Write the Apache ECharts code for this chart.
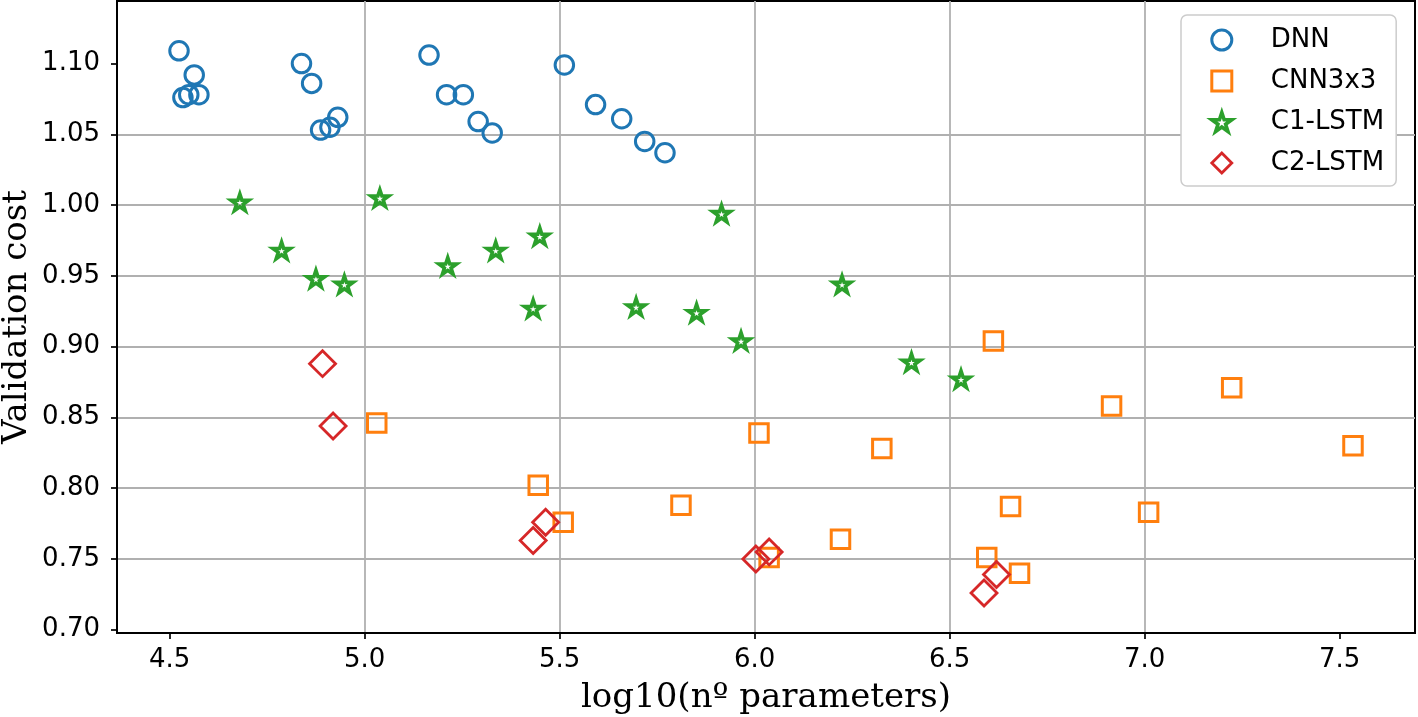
<!DOCTYPE html>
<html><head><meta charset="utf-8">
<script src="https://cdn.jsdelivr.net/npm/echarts@6/dist/echarts.min.js"></script>
<style>html,body{margin:0;padding:0;background:#fff}#c{width:1418px;height:717px}</style>
</head><body><div id="c"></div>
<script>
const seriesNames = ['DNN', 'CNN3x3', 'C1-LSTM', 'C2-LSTM'];
const xTicks = [4.5, 5.0, 5.5, 6.0, 6.5, 7.0, 7.5];
const yTicks = [0.70, 0.75, 0.80, 0.85, 0.90, 0.95, 1.00, 1.05, 1.10];

const dnnX = [4.524, 4.563, 4.534, 4.549, 4.575, 4.838, 4.864, 4.887, 4.911, 4.931, 5.165, 5.210, 5.253, 5.291, 5.327, 5.512, 5.592, 5.659, 5.718, 5.770];
const dnnY = [1.109, 1.092, 1.076, 1.078, 1.078, 1.100, 1.086, 1.053, 1.055, 1.062, 1.106, 1.078, 1.078, 1.059, 1.051, 1.099, 1.071, 1.061, 1.045, 1.037];

const cnnX = [5.031, 5.445, 5.509, 5.811, 6.011, 6.037, 6.220, 6.326, 6.595, 6.612, 6.656, 6.679, 6.915, 7.010, 7.223, 7.534];
const cnnY = [0.846, 0.802, 0.776, 0.788, 0.839, 0.751, 0.764, 0.828, 0.751, 0.904, 0.787, 0.740, 0.858, 0.783, 0.871, 0.830];

const c1X = [4.680, 4.787, 4.875, 4.948, 5.039, 5.213, 5.336, 5.432, 5.449, 5.696, 5.851, 5.915, 5.965, 6.224, 6.402, 6.529];
const c1Y = [1.002, 0.968, 0.948, 0.944, 1.005, 0.957, 0.968, 0.927, 0.978, 0.928, 0.924, 0.994, 0.904, 0.944, 0.889, 0.877];

const c2X = [4.892, 4.919, 5.432, 5.464, 6.003, 6.037, 6.588, 6.620];
const c2Y = [0.888, 0.844, 0.763, 0.776, 0.750, 0.755, 0.726, 0.739];

const xRange = [4.365, 7.693];
const yRange = [0.6977, 1.1442];

function zip(a, b) { return a.map((v, i) => [v, b[i]]); }
function starPath() {
  const R = 10, r = R * 0.381966; let d = '';
  for (let i = 0; i < 10; i++) {
    const a = -Math.PI / 2 + i * Math.PI / 5, rr = i % 2 ? r : R;
    d += (i ? 'L' : 'M') + (rr * Math.cos(a)).toFixed(3) + ' ' + (rr * Math.sin(a)).toFixed(3);
  }
  return 'path://' + d + 'Z';
}
const STAR = starPath();
const colors = ['#1f77b4', '#ff7f0e', '#2ca02c', '#d62728'];
const symbols = ['circle', 'rect', STAR, 'diamond'];
const sizes = [18.5, 18.5, 17.5, 26];
const bw = [3, 3, 3.6, 2.8];
const dataSets = [zip(dnnX, dnnY), zip(cnnX, cnnY), zip(c1X, c1Y), zip(c2X, c2Y)];

const chart = echarts.init(document.getElementById('c'), null, {renderer: 'canvas'});
const tickFont = {fontFamily: 'DejaVu Sans', fontSize: 26, color: '#000'};
chart.setOption({
  animation: false,
  backgroundColor: '#fff',
  grid: {left: 117, right: 3, top: 1, bottom: 84, show: true, borderColor: '#000', borderWidth: 2, backgroundColor: 'rgba(0,0,0,0)', containLabel: false, outerBoundsMode: 'none'},
  xAxis: {
    type: 'value', min: xRange[0], max: xRange[1], splitNumber: 6,
    name: 'log10(nº parameters)', nameLocation: 'middle', nameGap: 48, nameMoveOverlap: false,
    nameTextStyle: {fontFamily: 'DejaVu Serif', fontSize: 34, color: '#000'},
    axisLine: {show: true, onZero: false, lineStyle: {color: '#000', width: 2}},
    axisTick: {show: true, length: 6, lineStyle: {color: '#000', width: 1.7}, customValues: xTicks},
    axisLabel: Object.assign({margin: 14, customValues: xTicks, formatter: v => v.toFixed(1)}, tickFont),
    splitLine: {show: true, showMinLine: false, showMaxLine: false, lineStyle: {color: '#b0b0b0', width: 1.8}}
  },
  yAxis: {
    type: 'value', min: yRange[0], max: yRange[1], splitNumber: 9,
    name: 'Validation cost', nameLocation: 'middle', nameGap: 83, nameRotate: 90, nameMoveOverlap: false,
    nameTextStyle: {fontFamily: 'DejaVu Serif', fontSize: 34, color: '#000'},
    axisLine: {show: true, onZero: false, lineStyle: {color: '#000', width: 2}},
    axisTick: {show: true, length: 6, lineStyle: {color: '#000', width: 1.7}, customValues: yTicks},
    axisLabel: Object.assign({margin: 17, customValues: yTicks, formatter: v => v.toFixed(2)}, tickFont),
    splitLine: {show: true, showMinLine: false, showMaxLine: false, lineStyle: {color: '#b0b0b0', width: 1.8}}
  },
  legend: {
    left: 1181, top: 15, orient: 'vertical',
    padding: [12, 12, 10, 29], itemWidth: 20, itemHeight: 20, itemGap: 15,
    backgroundColor: '#fff', borderColor: '#cccccc', borderWidth: 1.5, borderRadius: 6,
    textStyle: Object.assign({padding: [0, 0, 0, 34]}, tickFont),
    data: seriesNames.map((n, i) => ({name: n, icon: symbols[i], itemStyle: {color: 'rgba(0,0,0,0)', borderColor: colors[i], borderWidth: bw[i]}})),
    selectedMode: false
  },
  series: seriesNames.map((n, i) => ({
    type: 'scatter', name: n, data: dataSets[i], symbol: symbols[i], symbolSize: sizes[i], symbolKeepAspect: true,
    itemStyle: {color: 'rgba(0,0,0,0)', borderColor: colors[i], borderWidth: bw[i], opacity: 1},
    emphasis: {disabled: true}, silent: true
  }))
});
</script></body></html>
